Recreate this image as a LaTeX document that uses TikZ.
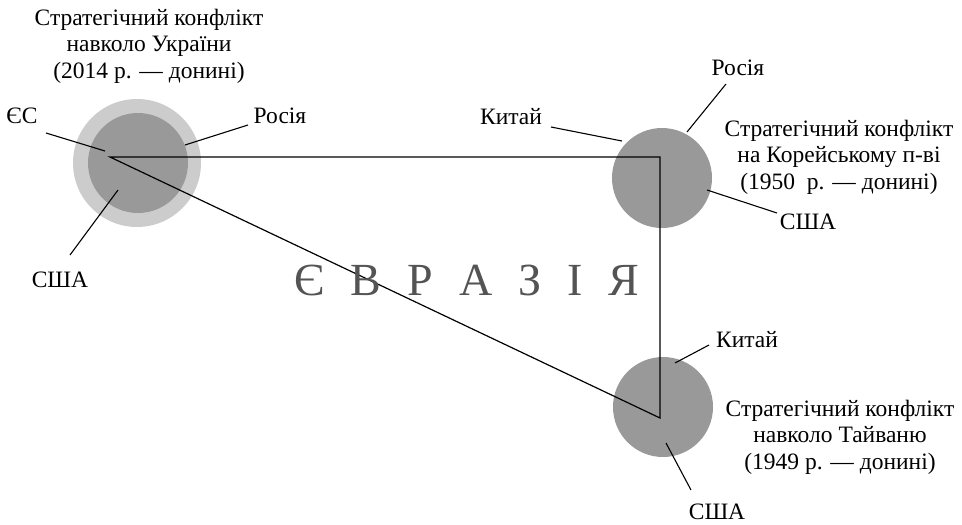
\documentclass[tikz,border=0pt]{standalone}
\usepackage{fontspec}
\setmainfont{Liberation Serif}
\begin{document}
\begin{tikzpicture}[x=1pt,y=-1pt,
  lbl/.style={font=\fontsize{23.5}{26.5}\selectfont, inner sep=0pt, align=center},
  lead/.style={line width=1.1pt},
  tri/.style={line width=1.2pt},
  darkc/.style={circle, fill=black!40, inner sep=0pt, minimum size=100pt},
  lightc/.style={circle, fill=black!20, inner sep=0pt, minimum size=128pt}]
\useasboundingbox (0,0) rectangle (962,525);
% circles
\node[lightc] (ukrO) at (137,163) {};
\node[darkc] (ukr) at (138,163) {};
\node[darkc] (kor) at (662,178) {};
\node[darkc] (tai) at (663,407) {};
% triangle
\coordinate (A) at (110,157);
\coordinate (B) at (660,157);
\coordinate (C) at (660,418);
\draw[tri] (A) -- (B) -- (C) -- cycle;
% big word
\node[font=\fontsize{46}{46}\selectfont, text=black!67, inner sep=0pt, anchor=base] (eur) at (467,295)
  {Є\hspace{26pt}В\hspace{26pt}Р\hspace{26pt}А\hspace{26pt}З\hspace{26pt}І\hspace{26pt}Я};
% titles
\node[lbl] (t1) at (149,46) {Стратегічний конфлікт\\навколо України\\(2014 р. — донині)};
\node[lbl] (t2) at (839,157) {Стратегічний конфлікт\\на Корейському п-ві\\(1950~~р. — донині)};
\node[lbl] (t3) at (840,437) {Стратегічний конфлікт\\навколо Тайваню\\(1949 р. — донині)};
% left labels
\node[lbl] (es) at (22,116) {ЄС};
\node[lbl] (ru1) at (280,116) {Росія};
\node[lbl] (us1) at (60,280) {США};
\coordinate (es1) at (46,133);  \coordinate (es2) at (105,151);
\coordinate (ru1a) at (248,125); \coordinate (ru1b) at (185,145);
\coordinate (us1a) at (70,255); \coordinate (us1b) at (118,190);
\draw[lead] (es1) -- (es2);
\draw[lead] (ru1a) -- (ru1b);
\draw[lead] (us1a) -- (us1b);
% top right labels
\node[lbl] (ru2) at (738,68) {Росія};
\node[lbl] (ch2) at (511,117) {Китай};
\node[lbl] (us2) at (808,222) {США};
\coordinate (ru2a) at (726,84); \coordinate (ru2b) at (687,132);
\coordinate (ch2a) at (551,127); \coordinate (ch2b) at (622,141);
\coordinate (us2a) at (777,213); \coordinate (us2b) at (707,190);
\draw[lead] (ru2a) -- (ru2b);
\draw[lead] (ch2a) -- (ch2b);
\draw[lead] (us2a) -- (us2b);
% bottom right labels
\node[lbl] (ch3) at (747,340) {Китай};
\node[lbl] (us3) at (717,512) {США};
\coordinate (ch3a) at (709,345); \coordinate (ch3b) at (675,363);
\coordinate (us3a) at (691,490); \coordinate (us3b) at (666,443);
\draw[lead] (ch3a) -- (ch3b);
\draw[lead] (us3a) -- (us3b);
\end{tikzpicture}
\end{document}
